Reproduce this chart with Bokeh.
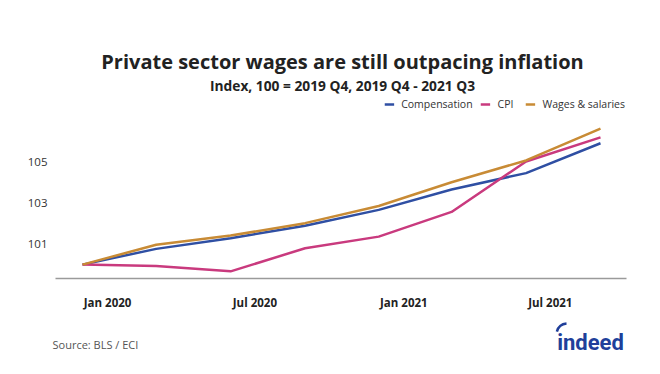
import pandas as pd
from bokeh.plotting import figure
from bokeh.layouts import column
from bokeh.models import Range1d, FixedTicker, Legend, LegendItem, DatetimeTickFormatter
from bokeh.core.properties import value
from bokeh.embed import file_html
from bokeh.resources import INLINE

# ---- data ----
quarters = ["2019-12-01", "2020-03-01", "2020-06-01", "2020-09-01",
            "2020-12-01", "2021-03-01", "2021-06-01", "2021-09-01"]
compensation = [100.0, 100.77, 101.29, 101.90, 102.68, 103.68, 104.48, 105.94]
cpi = [100.0, 99.93, 99.67, 100.80, 101.37, 102.58, 105.05, 106.23]
wages = [100.0, 100.97, 101.42, 102.03, 102.87, 104.03, 105.10, 106.66]
x_ticks = ["2020-01-01", "2020-07-01", "2021-01-01", "2021-07-01"]
y_ticks = [101, 103, 105]
series_names = ["Compensation", "CPI", "Wages & salaries"]
colors = ["#2F4FA3", "#C93A7E", "#C88B35"]

title = "Private sector wages are still outpacing inflation"
subtitle = "Index, 100 = 2019 Q4, 2019 Q4 - 2021 Q3"
source = "Source: BLS / ECI"
logo = "indeed"

FONT = "Open Sans"
W = 644


def ms(d):
    return pd.Timestamp(d).value / 1e6


def blank_fig(h):
    f = figure(width=W, height=h, output_backend="svg", toolbar_location=None,
               x_range=Range1d(0, W), y_range=Range1d(0, h),
               x_axis_location=None, y_axis_location=None,
               min_border_left=0, min_border_right=0, min_border_top=0, min_border_bottom=0,
               frame_align=False)
    f.outline_line_color = None
    f.grid.grid_line_color = None
    f.background_fill_color = "white"
    f.border_fill_color = "white"
    return f


# ---- header ----
TOP_H = 96
top = blank_fig(TOP_H)
top.text(x=[342], y=[TOP_H - 60.7], text=[title], text_font=value(FONT),
         text_font_size="20px", text_font_style="bold", text_color="#222222",
         text_align="center", text_baseline="alphabetic")
top.text(x=[342], y=[TOP_H - 85], text=[subtitle], text_font=value(FONT),
         text_font_size="13.75px", text_font_style="bold", text_color="#222222",
         text_align="center", text_baseline="alphabetic")

# ---- main chart ----
MAIN_H = 216
FL, FR = 55, 626
FB_MARGIN = 32
xs = [ms(d) for d in quarters]
px_per_day = (FR - FL - 27 - 26) / ((pd.Timestamp(quarters[-1]) - pd.Timestamp(quarters[0])).days)
x0 = ms(pd.Timestamp(quarters[0]) - pd.Timedelta(days=27 / px_per_day))
x1 = ms(pd.Timestamp(quarters[-1]) + pd.Timedelta(days=26 / px_per_day))
y0 = 99.32
ppu = 20.65
y1 = y0 + (MAIN_H - FB_MARGIN) / ppu

p = figure(width=W, height=MAIN_H, output_backend="svg", toolbar_location=None,
           x_axis_type="datetime",
           x_range=Range1d(x0, x1), y_range=Range1d(y0, y1),
           min_border_left=FL, min_border_right=W - FR,
           min_border_top=0, min_border_bottom=FB_MARGIN,
           frame_align=False)
p.outline_line_color = None
p.grid.grid_line_color = None
p.background_fill_color = "white"
p.border_fill_color = "white"

p.xaxis.ticker = FixedTicker(ticks=[ms(d) for d in x_ticks])
p.xaxis.formatter = DatetimeTickFormatter(months="%b %Y", days="%b %Y", years="%b %Y")
p.xaxis.axis_line_color = "#9a9a9a"
p.xaxis.axis_line_width = 1.5
p.xaxis.major_tick_line_color = None
p.xaxis.minor_tick_line_color = None
p.xaxis.major_label_text_font = FONT
p.xaxis.major_label_text_font_style = "bold"
p.xaxis.major_label_text_font_size = "11.5px"
p.xaxis.major_label_text_color = "#222222"
p.xaxis.major_label_standoff = 10

p.yaxis.ticker = FixedTicker(ticks=y_ticks)
p.yaxis.axis_line_color = None
p.yaxis.major_tick_line_color = None
p.yaxis.minor_tick_line_color = None
p.yaxis.major_label_text_font = FONT
p.yaxis.major_label_text_font_size = "11.5px"
p.yaxis.major_label_text_color = "#333333"
p.yaxis.major_label_standoff = 2

renderers = []
for vals, c in zip([compensation, cpi, wages], colors):
    renderers.append(p.line(xs, vals, line_color=c, line_width=2.5))

legend = Legend(items=[LegendItem(label=n, renderers=[r]) for n, r in zip(series_names, renderers)],
                orientation="horizontal", location="top_right")
legend.border_line_color = None
legend.background_fill_alpha = 0
legend.label_text_font = FONT
legend.label_text_font_size = "10.5px"
legend.label_text_color = "#333333"
legend.glyph_width = 10
legend.glyph_height = 10
legend.label_height = 10
legend.label_standoff = 7
legend.spacing = 8
legend.padding = 0
legend.margin = 1
legend.label_text_baseline = "middle"
p.add_layout(legend, "center")

# ---- footer ----
BOT_H = 46
bot = blank_fig(BOT_H)
PAGE_BOTTOM = TOP_H + MAIN_H + BOT_H
bot.text(x=[52], y=[PAGE_BOTTOM - 344], text=[source], text_font=value(FONT),
         text_font_size="11px", text_color="#555555",
         text_align="left", text_baseline="alphabetic")
bot.text(x=[590], y=[PAGE_BOTTOM - 342], text=[logo], text_font=value("Roboto"),
         text_font_size="22px", text_font_style="bold", text_color="#203F9A",
         text_align="center", text_baseline="alphabetic")
bot.arc(x=[567], y=[PAGE_BOTTOM - 334], radius=11, radius_units="screen",
        start_angle=1.66, end_angle=2.88, line_color="#203F9A", line_width=2.5)

layout = column(top, p, bot)
open("out.html", "w").write(file_html(layout, INLINE))
